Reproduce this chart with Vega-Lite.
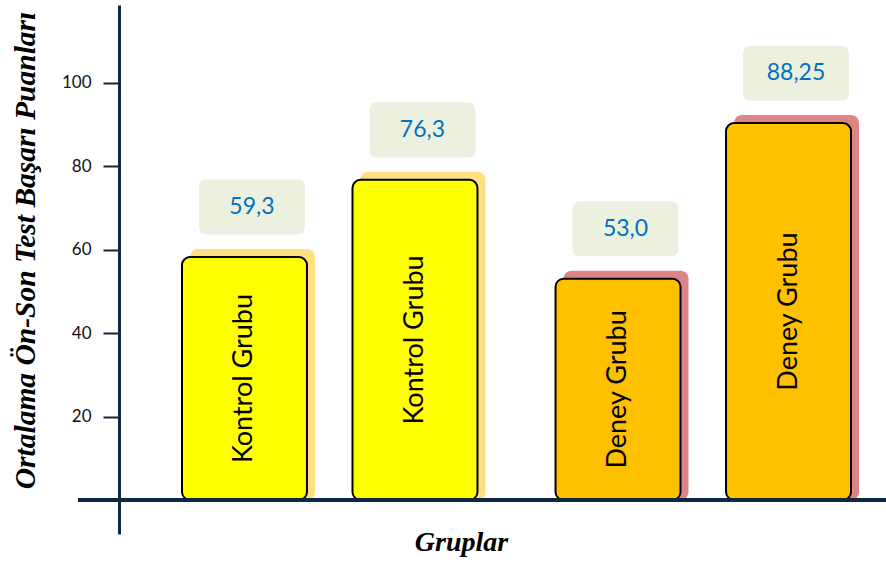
{
  "$schema": "https://vega.github.io/schema/vega-lite/v6.json",
  "width": 808,
  "height": 529,
  "autosize": "none",
  "padding": {"left": 78, "top": 5, "right": 0, "bottom": 31},
  "background": "#ffffff",
  "config": {"view": {"stroke": null}},
  "data": {
    "values": [
      {"grup": "Kontrol Grubu", "test": "Ön Test", "value": 58.2, "label": "59,3"},
      {"grup": "Kontrol Grubu", "test": "Son Test", "value": 76.7, "label": "76,3"},
      {"grup": "Deney Grubu", "test": "Ön Test", "value": 53.0, "label": "53,0"},
      {"grup": "Deney Grubu", "test": "Son Test", "value": 90.3, "label": "88,25"}
    ]
  },
  "encoding": {
    "x": {
      "field": "grup", "type": "nominal",
      "scale": {"type": "band", "domain": ["Kontrol Grubu", "Deney Grubu"], "range": [104, 773], "paddingInner": 0.209, "paddingOuter": 0},
      "axis": {"title": "Gruplar", "labels": false, "ticks": false, "domain": false, "titleFont": "Liberation Serif", "titleFontStyle": "italic", "titleFontWeight": "bold", "titleFontSize": 28, "titleColor": "#000000", "titleX": 383, "titleY": 8, "titleBaseline": "middle", "titleAlign": "center"}
    },
    "xOffset": {
      "field": "test", "type": "nominal",
      "scale": {"type": "band", "domain": ["Ön Test", "Son Test"], "paddingInner": 0.267, "paddingOuter": 0}
    }
  },
  "resolve": {"scale": {"y": "independent", "xOffset": "independent"}},
  "layer": [
    {
      "mark": {"type": "bar", "cornerRadius": 8, "yOffset": -8},
      "encoding": {
        "xOffset": {
          "field": "test", "type": "nominal",
          "scale": {"type": "band", "domain": ["Ön Test", "Son Test"], "range": [8, 303.5], "paddingInner": 0.267, "paddingOuter": 0}
        },
        "y": {
          "field": "value", "type": "quantitative",
          "scale": {"domain": [-8.15, 118.6], "nice": false, "zero": false},
          "axis": {"title": "Ortalama Ön-Son Test Başarı  Puanları", "orient": "left", "offset": -41, "values": [20, 40, 60, 80, 100], "grid": false, "domainColor": "#0e2841", "domainWidth": 3, "tickColor": "#0e2841", "tickWidth": 2, "tickSize": 16, "labelFont": "Lato", "labelFontSize": 17, "labelColor": "#111111", "labelPadding": 12, "titleFont": "Liberation Serif", "titleFontStyle": "italic", "titleFontWeight": "bold", "titleFontSize": 29.5, "titleColor": "#000000", "titleAngle": -90, "titleX": -94, "titleY": 245, "titleBaseline": "middle", "titleAlign": "center"}
        },
        "y2": {"datum": 0},
        "fill": {"condition": {"test": "datum.grup === 'Kontrol Grubu'", "value": "#FFDF80"}, "value": "#DF8484"}
      }
    },
    {
      "mark": {"type": "bar", "cornerRadius": 8, "stroke": "#000000", "strokeWidth": 2},
      "encoding": {
        "y": {"field": "value", "type": "quantitative", "scale": {"domain": [-8.15, 118.6], "nice": false, "zero": false}, "axis": null},
        "y2": {"datum": 0},
        "fill": {"condition": {"test": "datum.grup === 'Kontrol Grubu'", "value": "#FFFF00"}, "value": "#FFC000"}
      }
    },
    {
      "data": {"values": [{"zero": 0}]},
      "mark": {"type": "rule", "color": "#0e2841", "strokeWidth": 4},
      "encoding": {
        "x": null,
        "xOffset": null,
        "y": {"field": "zero", "type": "quantitative", "scale": {"domain": [-8.15, 118.6], "nice": false, "zero": false}, "axis": null}
      }
    },
    {
      "mark": {"type": "text", "angle": 270, "font": "Lato", "fontSize": 27, "color": "#000000", "align": "center", "baseline": "middle"},
      "encoding": {
        "y": {"field": "value", "type": "quantitative", "scale": {"domain": [-16.3, 237.2], "nice": false, "zero": false}, "axis": null},
        "text": {"field": "grup"}
      }
    },
    {
      "mark": {"type": "point", "filled": true, "opacity": 1, "fill": "#EBF1DE", "strokeWidth": 0, "size": 11236,
        "shape": "M -0.707 -1.462 L 0.991 -1.462 Q 1.142 -1.462 1.142 -1.311 L 1.142 -0.575 Q 1.142 -0.424 0.991 -0.424 L -0.707 -0.424 Q -0.858 -0.424 -0.858 -0.575 L -0.858 -1.311 Q -0.858 -1.462 -0.707 -1.462 Z"},
      "encoding": {
        "y": {"field": "value", "type": "quantitative", "scale": {"domain": [-8.15, 118.6], "nice": false, "zero": false}, "axis": null}
      }
    },
    {
      "mark": {"type": "text", "font": "Lato", "fontSize": 23, "color": "#0070C0", "align": "center", "baseline": "middle", "dx": 7.5, "dy": -50},
      "encoding": {
        "y": {"field": "value", "type": "quantitative", "scale": {"domain": [-8.15, 118.6], "nice": false, "zero": false}, "axis": null},
        "text": {"field": "label"}
      }
    }
  ]
}
